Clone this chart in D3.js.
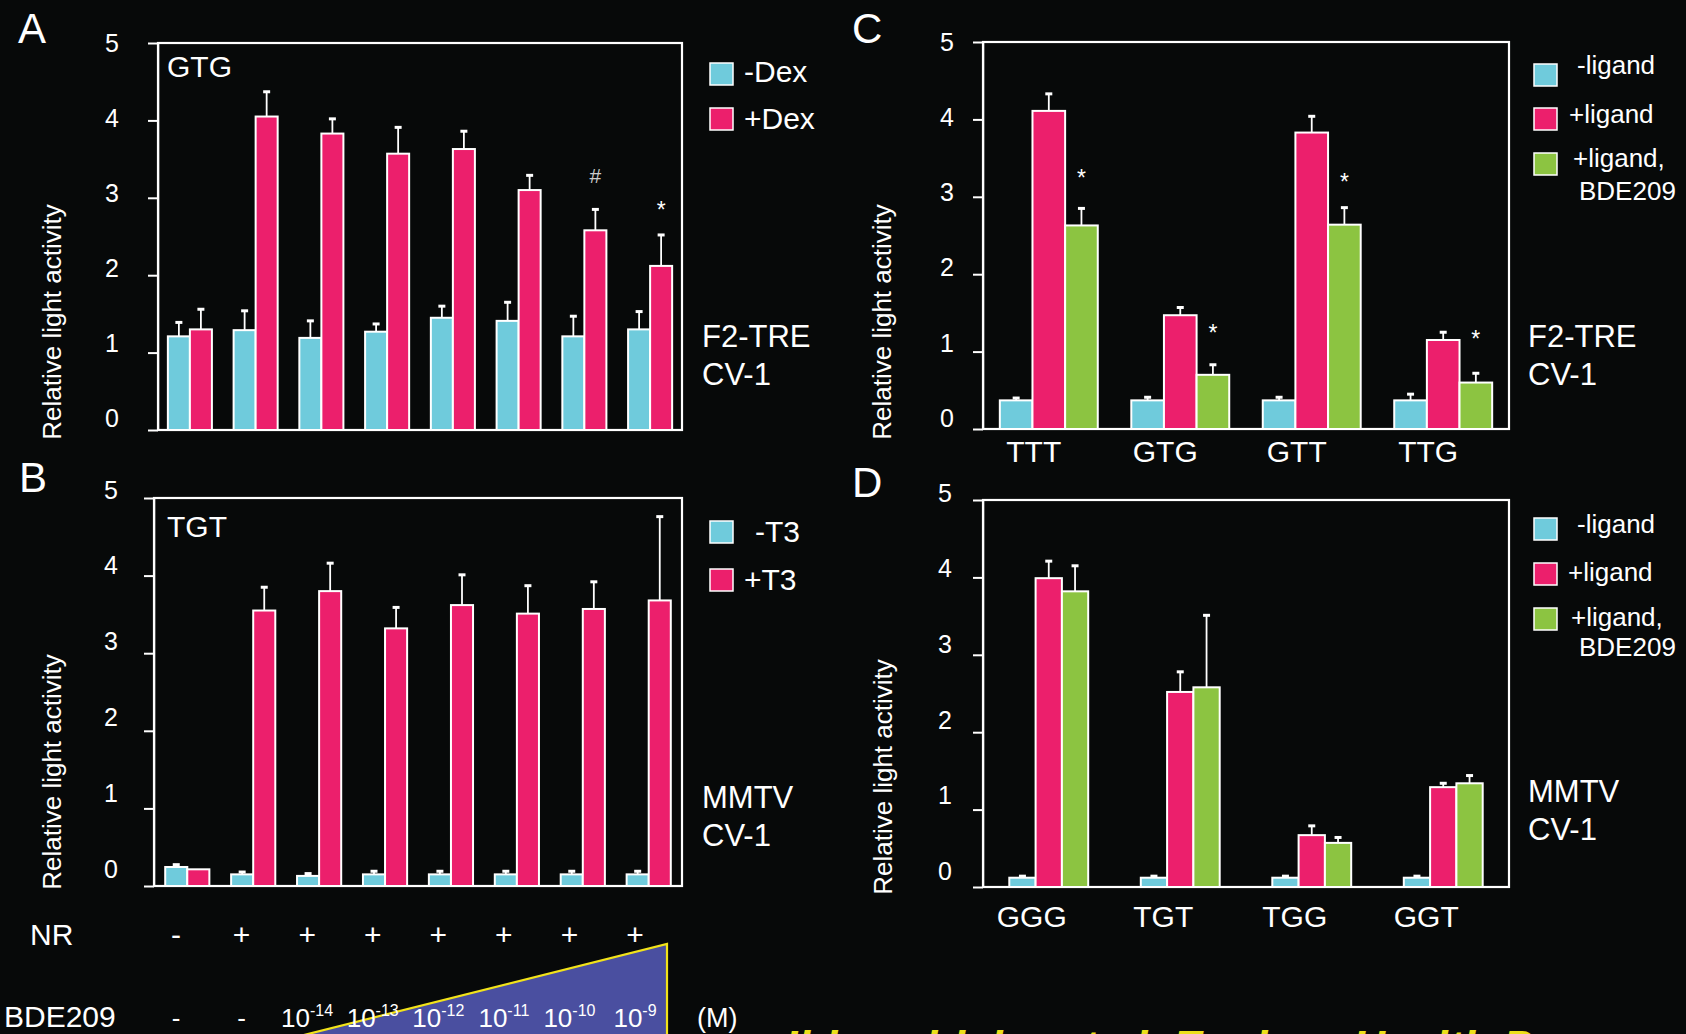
<!DOCTYPE html>
<html>
<head>
<meta charset="utf-8">
<script src="https://cdn.jsdelivr.net/npm/d3@7"></script>
<style>
    html, body { margin: 0; padding: 0; background: #070909; }
    svg { display: block; }
    text { font-family: "Liberation Sans", Arial, Helvetica, sans-serif; fill: #fff; }
</style>
</head>
<body>
<script>

// ---- data ----
var yTicks = [0, 1, 2, 3, 4, 5];

// panel A : GTG, F2-TRE, +/- Dex
var aMinusDex = [1.21, 1.29, 1.19, 1.27, 1.45, 1.41, 1.21, 1.30];
var aMinusDexErr = [0.18, 0.25, 0.22, 0.10, 0.15, 0.24, 0.26, 0.23];
var aPlusDex = [1.30, 4.05, 3.83, 3.57, 3.63, 3.10, 2.58, 2.12];
var aPlusDexErr = [0.26, 0.32, 0.19, 0.34, 0.23, 0.19, 0.27, 0.40];

// panel B : TGT, MMTV, +/- T3
var bMinusT3 = [0.245, 0.15, 0.13, 0.15, 0.15, 0.15, 0.15, 0.15];
var bMinusT3Err = [0.03, 0.03, 0.03, 0.04, 0.04, 0.04, 0.04, 0.04];
var bPlusT3 = [0.215, 3.55, 3.80, 3.32, 3.62, 3.51, 3.57, 3.68];
var bPlusT3Err = [0.0, 0.30, 0.36, 0.27, 0.39, 0.36, 0.35, 1.08];

// panel C : F2-TRE
var cCategories = ["TTT", "GTG", "GTT", "TTG"];
var cMinusLigand = [0.37, 0.37, 0.37, 0.37];
var cMinusLigandErr = [0.03, 0.04, 0.04, 0.08];
var cPlusLigand = [4.11, 1.47, 3.83, 1.15];
var cPlusLigandErr = [0.22, 0.10, 0.21, 0.10];
var cPlusBDE = [2.63, 0.70, 2.64, 0.60];
var cPlusBDEErr = [0.22, 0.13, 0.22, 0.12];

// panel D : MMTV
var dCategories = ["GGG", "TGT", "TGG", "GGT"];
var dMinusLigand = [0.12, 0.12, 0.12, 0.12];
var dMinusLigandErr = [0.02, 0.02, 0.02, 0.02];
var dPlusLigand = [3.99, 2.52, 0.67, 1.29];
var dPlusLigandErr = [0.22, 0.26, 0.12, 0.05];
var dPlusBDE = [3.82, 2.58, 0.57, 1.34];
var dPlusBDEErr = [0.33, 0.93, 0.07, 0.10];

// rows under A/B
var nrSigns = ["-", "+", "+", "+", "+", "+", "+", "+"];
var bdeExponents = [null, null, "-14", "-13", "-12", "-11", "-10", "-9"];

var cyan = "#6fcbdc", magenta = "#ec1f6c", green = "#8cc441";

var W = 1686, H = 1034;

var svg = d3.select("body").append("svg")
    .attr("width", W)
    .attr("height", H);

svg.append("rect")
    .attr("width", W)
    .attr("height", H)
    .attr("fill", "#070909");

function drawPanel(cfg) {

    var g = svg.append("g");

    var y = d3.scaleLinear().domain([0, 5]).range([cfg.bottom, cfg.top]);

    var x0 = d3.scaleBand()
        .domain(d3.range(cfg.series[0].values.length))
        .range([cfg.left, cfg.right])
        .paddingInner(cfg.padInner)
        .paddingOuter(cfg.padOuter);

    var x1 = d3.scaleBand()
        .domain(d3.range(cfg.series.length))
        .range([0, x0.bandwidth()]);

    // frame
    g.append("rect")
        .attr("x", cfg.left)
        .attr("y", cfg.top)
        .attr("width", cfg.right - cfg.left)
        .attr("height", cfg.bottom - cfg.top)
        .attr("fill", "none")
        .attr("stroke", "#fff")
        .attr("stroke-width", 2.2);

    var ax = g.append("g")
        .attr("transform", "translate(" + cfg.left + ",0)")
        .call(d3.axisLeft(y).tickValues(yTicks).tickSize(10).tickSizeOuter(0)
            .tickPadding(cfg.labelPad).tickFormat(d3.format("d")));

    ax.select(".domain").attr("stroke", "#fff").attr("stroke-width", 1.5);
    ax.selectAll(".tick line").attr("stroke", "#fff").attr("stroke-width", 2);
    // the printed numbers sit a little higher than their ticks, more so near 0
    ax.selectAll(".tick text")
        .style("font-size", "25px")
        .attr("y", function (d) { return cfg.labelShift - (5 - d) * cfg.labelDrift; });

    // y title
    g.append("text")
        .attr("transform", "translate(" + cfg.titleX + "," + cfg.titleY + ") rotate(-90)")
        .attr("text-anchor", "middle")
        .style("font-size", "26px")
        .text("Relative light activity");

    cfg.series.forEach(function (s, si) {
        var data = s.values.map(function (v, i) {
            return {i: i, v: v, e: s.errors[i]};
        });

        g.selectAll(null)
            .data(data)
            .enter()
            .append("rect")
            .attr("x", function (d) { return x0(d.i) + x1(si); })
            .attr("width", x1.bandwidth())
            .attr("y", function (d) { return y(d.v); })
            .attr("height", function (d) { return y(0) - y(d.v); })
            .attr("fill", s.color)
            .attr("stroke", "#fff")
            .attr("stroke-width", 2);

        var cx = function (d) { return x0(d.i) + x1(si) + x1.bandwidth() / 2; };

        g.selectAll(null)
            .data(data.filter(function (d) { return d.e > 0; }))
            .enter()
            .append("line")
            .attr("x1", cx).attr("x2", cx)
            .attr("y1", function (d) { return y(d.v); })
            .attr("y2", function (d) { return y(d.v + d.e); })
            .attr("stroke", "#fff")
            .attr("stroke-width", 1.8);

        g.selectAll(null)
            .data(data.filter(function (d) { return d.e > 0; }))
            .enter()
            .append("line")
            .attr("x1", function (d) { return cx(d) - 3.5; })
            .attr("x2", function (d) { return cx(d) + 3.5; })
            .attr("y1", function (d) { return y(d.v + d.e); })
            .attr("y2", function (d) { return y(d.v + d.e); })
            .attr("stroke", "#fff")
            .attr("stroke-width", 3);
    });

    // significance marks
    (cfg.marks || []).forEach(function (m) {
        var s = cfg.series[m.series];
        var top = s.values[m.index] + s.errors[m.index];
        g.append("text")
            .attr("x", x0(m.index) + x1(m.series) + x1.bandwidth() / 2)
            .attr("y", y(top) - m.lift)
            .attr("text-anchor", "middle")
            .style("font-size", m.size + "px")
            .style("fill", m.color || "#fff")
            .text(m.symbol);
    });

    // categories
    if (cfg.categories) {
        g.selectAll(null)
            .data(cfg.categories)
            .enter()
            .append("text")
            .attr("x", function (d, i) { return x0(i) + x0.bandwidth() / 2 + cfg.catShift; })
            .attr("y", cfg.catY)
            .attr("text-anchor", "middle")
            .style("font-size", "30px")
            .text(function (d) { return d; });
    }

    // inner label
    if (cfg.inner) {
        g.append("text")
            .attr("x", 167)
            .attr("y", cfg.innerY)
            .style("font-size", "30px")
            .text(cfg.inner);
    }

    // panel letter
    g.append("text")
        .attr("x", cfg.letterX)
        .attr("y", cfg.letterY)
        .style("font-size", "42px")
        .text(cfg.letter);

    // legend
    cfg.legend.forEach(function (l, i) {
        g.append("rect")
            .attr("x", cfg.legendX)
            .attr("y", l.boxY)
            .attr("width", 23)
            .attr("height", 22)
            .attr("fill", cfg.series[i].color)
            .attr("stroke", "#fff")
            .attr("stroke-width", 1.5);
        l.lines.forEach(function (t) {
            g.append("text")
                .attr("x", t.x)
                .attr("y", t.y)
                .style("font-size", cfg.legendFont + "px")
                .text(t.text);
        });
    });

    // construct / cell line
    cfg.side.forEach(function (t, i) {
        g.append("text")
            .attr("x", cfg.sideX)
            .attr("y", cfg.sideY + i * 38)
            .style("font-size", "31px")
            .text(t);
    });
}

drawPanel({
    left: 158, right: 682, top: 43, bottom: 430,
    padInner: 0.33, padOuter: 0.15, labelPad: 29, labelShift: 0, labelDrift: 2.3,
    titleX: 61, titleY: 322,
    letter: "A", letterX: 18, letterY: 43,
    inner: "GTG", innerY: 77,
    series: [
        {values: aMinusDex, errors: aMinusDexErr, color: cyan},
        {values: aPlusDex, errors: aPlusDexErr, color: magenta}
    ],
    marks: [
        {series: 1, index: 6, symbol: "#", lift: 26, size: 21, color: "#ccc"},
        {series: 1, index: 7, symbol: "*", lift: 17, size: 23}
    ],
    legendX: 710, legendFont: 30,
    legend: [
        {boxY: 63, lines: [{x: 744, y: 82, text: "-Dex"}]},
        {boxY: 108, lines: [{x: 744, y: 129, text: "+Dex"}]}
    ],
    side: ["F2-TRE", "CV-1"], sideX: 702, sideY: 347
});

drawPanel({
    left: 154, right: 682, top: 498, bottom: 886,
    padInner: 0.33, padOuter: 0.17, labelPad: 26, labelShift: -8, labelDrift: 1.7,
    titleX: 61, titleY: 772,
    letter: "B", letterX: 19, letterY: 492,
    inner: "TGT", innerY: 537,
    series: [
        {values: bMinusT3, errors: bMinusT3Err, color: cyan},
        {values: bPlusT3, errors: bPlusT3Err, color: magenta}
    ],
    legendX: 710, legendFont: 30,
    legend: [
        {boxY: 521, lines: [{x: 755, y: 542, text: "-T3"}]},
        {boxY: 569, lines: [{x: 744, y: 590, text: "+T3"}]}
    ],
    side: ["MMTV", "CV-1"], sideX: 702, sideY: 808
});

drawPanel({
    left: 983, right: 1509, top: 42, bottom: 429,
    padInner: 0.255, padOuter: 0.128, labelPad: 19, labelShift: 0, labelDrift: 2.1,
    titleX: 891, titleY: 322,
    letter: "C", letterX: 852, letterY: 43,
    categories: cCategories, catShift: -15, catY: 462,
    series: [
        {values: cMinusLigand, errors: cMinusLigandErr, color: cyan},
        {values: cPlusLigand, errors: cPlusLigandErr, color: magenta},
        {values: cPlusBDE, errors: cPlusBDEErr, color: green}
    ],
    marks: [
        {series: 2, index: 0, symbol: "*", lift: 22, size: 23},
        {series: 2, index: 1, symbol: "*", lift: 24, size: 23},
        {series: 2, index: 2, symbol: "*", lift: 18, size: 23},
        {series: 2, index: 3, symbol: "*", lift: 26, size: 23}
    ],
    legendX: 1534, legendFont: 26,
    legend: [
        {boxY: 64, lines: [{x: 1577, y: 74, text: "-ligand"}]},
        {boxY: 108, lines: [{x: 1569, y: 123, text: "+ligand"}]},
        {boxY: 153, lines: [{x: 1573, y: 167, text: "+ligand,"}, {x: 1579, y: 200, text: "BDE209"}]}
    ],
    side: ["F2-TRE", "CV-1"], sideX: 1528, sideY: 347
});

drawPanel({
    left: 983, right: 1509, top: 500, bottom: 887,
    padInner: 0.40, padOuter: 0.2, labelPad: 21, labelShift: -7, labelDrift: 1.7,
    titleX: 892, titleY: 777,
    letter: "D", letterX: 852, letterY: 497,
    categories: dCategories, catShift: -17, catY: 927,
    series: [
        {values: dMinusLigand, errors: dMinusLigandErr, color: cyan},
        {values: dPlusLigand, errors: dPlusLigandErr, color: magenta},
        {values: dPlusBDE, errors: dPlusBDEErr, color: green}
    ],
    legendX: 1534, legendFont: 26,
    legend: [
        {boxY: 518, lines: [{x: 1577, y: 533, text: "-ligand"}]},
        {boxY: 563, lines: [{x: 1568, y: 581, text: "+ligand"}]},
        {boxY: 608, lines: [{x: 1571, y: 626, text: "+ligand,"}, {x: 1579, y: 656, text: "BDE209"}]}
    ],
    side: ["MMTV", "CV-1"], sideX: 1528, sideY: 802
});

// ---- treatment rows ----
var rowX = d3.scalePoint().domain(d3.range(nrSigns.length)).range([176, 635]);

// concentration wedge
var wedgeX = rowX(7) + 32;
var wedge = svg.append("g");
wedge.append("path")
    .attr("d", "M" + wedgeX + ",944 L" + wedgeX + ",1040 L284,1040 Z")
    .attr("fill", "#4a4fa0");
wedge.append("path")
    .attr("d", "M284,1040 L" + wedgeX + ",944 L" + wedgeX + ",1040")
    .attr("fill", "none")
    .attr("stroke", "#f2e31a")
    .attr("stroke-width", 2.2);

svg.append("text")
    .attr("x", 30).attr("y", 945)
    .style("font-size", "30px")
    .text("NR");

svg.selectAll(null)
    .data(nrSigns)
    .enter()
    .append("text")
    .attr("x", function (d, i) { return rowX(i); })
    .attr("y", 945)
    .attr("text-anchor", "middle")
    .style("font-size", "30px")
    .text(function (d) { return d; });

svg.append("text")
    .attr("x", 4).attr("y", 1027)
    .style("font-size", "30px")
    .text("BDE209");

var bde = svg.selectAll(null)
    .data(bdeExponents)
    .enter()
    .append("text")
    .attr("x", function (d, i) { return rowX(i); })
    .attr("y", 1027)
    .attr("text-anchor", "middle")
    .style("font-size", "26px");

bde.filter(function (d) { return !d; }).text("-");
bde.filter(function (d) { return d; })
    .each(function (d) {
        var t = d3.select(this);
        t.append("tspan").text("10");
        t.append("tspan").attr("dy", -11).style("font-size", "16px").text(d);
    });

svg.append("text")
    .attr("x", 697).attr("y", 1027)
    .style("font-size", "27px")
    .text("(M)");

svg.append("text")
    .attr("x", 785).attr("y", 1062)
    .style("font-size", "45px")
    .style("font-weight", "bold")
    .style("font-style", "italic")
    .style("fill", "#ece01a")
    .text("Ibhazehiebo et al. Environ Health Perspect");

</script>
</body>
</html>
